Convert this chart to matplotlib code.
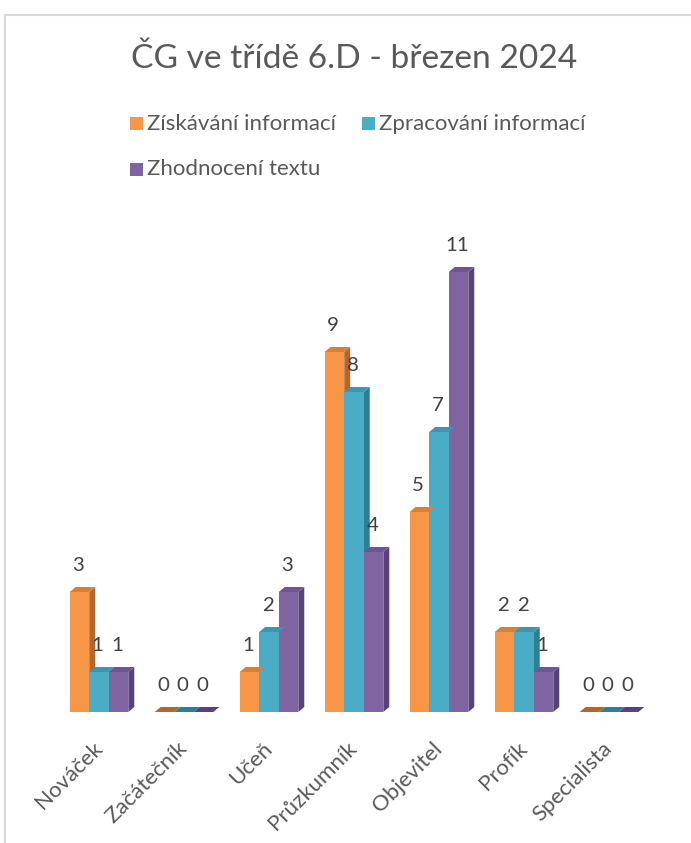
import matplotlib
matplotlib.use("Agg")
import matplotlib.pyplot as plt
from matplotlib.patches import Polygon, Rectangle
from matplotlib.lines import Line2D
import numpy as np

categories = ["Nováček", "Začátečník", "Učeň", "Průzkumník", "Objevitel", "Profík", "Specialista"]
series_names = ["Získávání informací", "Zpracování informací", "Zhodnocení textu"]
ziskavani = [3, 0, 1, 9, 5, 2, 0]
zpracovani = [1, 0, 2, 8, 7, 2, 0]
zhodnoceni = [1, 0, 3, 4, 11, 1, 0]
title = "ČG ve třídě 6.D - březen 2024"

colors = ["#F79646", "#4BACC6", "#8064A2"]
side_colors = ["#B3672B", "#2F7F94", "#574279"]
top_colors = ["#D97F36", "#3A97AF", "#6E5593"]

FAM = ['Lato', 'DejaVu Sans']
plt.rcParams['font.family'] = FAM

W, H = 691, 843
fig = plt.figure(figsize=(W / 100, H / 100), dpi=100)
renderer = fig.canvas.get_renderer()


def fit_size(sample, target_px, base=12.0):
    t = fig.text(0, 0, sample, fontsize=base)
    w = t.get_window_extent(renderer=renderer).width
    t.remove()
    return base * target_px / w


def fx(px):
    return px / W


def fy(py):
    return 1 - py / H


title_fs = fit_size(title, 443)
legend_fs = fit_size(series_names[0], 188)
tick_fs = fit_size(categories[0], 86)
label_fs = fit_size("11", 21) * 1.12

# axes: x=-0.5 at px 56.5, x=6.5 at px 651.5 ; y=0 at py 712, 40 px per unit
ax = fig.add_axes([fx(56.5), fy(712), fx(651.5) - fx(56.5), 480 / H])
ax.set_xlim(-0.5, 6.5)
ax.set_ylim(0, 12)
ax.axis('off')

bw = 0.23
dx = 0.07
dy = 0.125
x = np.arange(len(categories))
all_series = [ziskavani, zpracovani, zhodnoceni]
offsets = [-bw, 0, bw]

for s, vals in enumerate(all_series):
    xs = x + offsets[s]
    ax.bar(xs, vals, width=bw, color=colors[s], linewidth=0, zorder=3)
    for xi, v in zip(xs, vals):
        left, right = xi - bw / 2, xi + bw / 2
        if v > 0:
            side = Polygon([(right, 0), (right + dx, dy), (right + dx, v + dy), (right, v)],
                           closed=True, facecolor=side_colors[s], edgecolor='none', zorder=2 + s * 0.1)
            ax.add_patch(side)
        top = Polygon([(left, v), (left + dx, v + dy), (right + dx, v + dy), (right, v)],
                      closed=True, facecolor=top_colors[s] if v > 0 else side_colors[s],
                      edgecolor='none', zorder=4)
        ax.add_patch(top)
        ax.annotate(str(v), xy=(xi, v), xytext=(-1, 19), textcoords='offset points',
                    ha='center', va='center', fontsize=label_fs,
                    color='#404040', zorder=5, annotation_clip=False)

# category labels
for xi, cat in zip(x, categories):
    ax.annotate(cat, xy=(xi, 0), xytext=(0, -24), textcoords='offset points',
                ha='right', va='center', rotation=45, rotation_mode='anchor',
                fontsize=tick_fs, color='#595959', annotation_clip=False)

# title
fig.text(fx(354.5), fy(59), title, ha='center', va='center', fontsize=title_fs, color='#595959')

# legend (manual)
leg_items = [(136, 123.5, 0), (368, 123.5, 1), (136, 169, 2)]
sq = 13
for px, py, s in leg_items:
    fig.patches.append(Rectangle((fx(px - sq / 2), fy(py + sq / 2)), sq / W, sq / H,
                                 transform=fig.transFigure, facecolor=colors[s], edgecolor='none'))
    fig.text(fx(px + 11), fy(py), series_names[s], ha='left', va='center',
             fontsize=legend_fs, color='#595959')

# chart border
fig.add_artist(Line2D([fx(5), fx(5)], [fy(15), 0], transform=fig.transFigure, color='#D9D9D9', lw=1.5))
fig.add_artist(Line2D([fx(5), 1], [fy(15), fy(15)], transform=fig.transFigure, color='#D9D9D9', lw=1.5))

fig.savefig("out.png", dpi=100, facecolor='white')
